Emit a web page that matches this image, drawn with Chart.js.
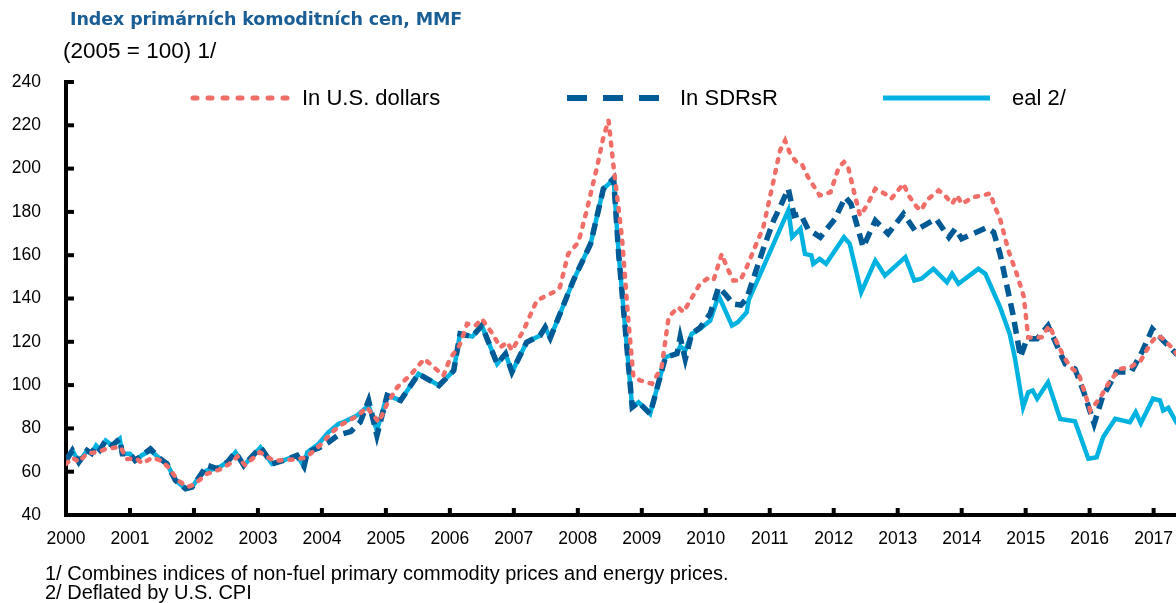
<!DOCTYPE html>
<html>
<head>
<meta charset="utf-8">
<script src="https://cdn.jsdelivr.net/npm/chart.js@4"></script>
<style>
  body { margin: 0; background: #fff; }
  #wrap { position: relative; width: 1176px; height: 603px; overflow: hidden; font-family: "Liberation Sans", Arial, sans-serif; }
  #c { position: absolute; left: 0; top: 0; }
  .txt { position: absolute; white-space: nowrap; color: #000; }
  #title { left: 70px; top: 9px; font: bold 17.5px "DejaVu Sans", sans-serif; color: #1a5e96; letter-spacing: -0.1px; }
  #subtitle { left: 63px; top: 38px; font-size: 22.5px; }
  .leg { position: absolute; top: 86px; height: 24px; }
  .leg svg { position: absolute; left: 0; top: 0; }
  .leg span { position: absolute; top: 0; font-size: 22px; line-height: 24px; white-space: nowrap; }
  .note { left: 45px; font-size: 20px; line-height: 20px; }
</style>
</head>
<body>
<div id="wrap">
  <canvas id="c" width="1176" height="603"></canvas>
  <div class="txt" id="title">Index primárních komoditních cen, MMF</div>
  <div class="txt" id="subtitle">(2005 = 100) 1/</div>

  <div class="leg" style="left:190px;width:300px">
    <svg width="100" height="24"><line x1="3" y1="12" x2="97" y2="12" stroke="#f06d68" stroke-width="5" stroke-linecap="round" stroke-dasharray="4 11"/></svg>
    <span style="left:112px">In U.S. dollars</span>
  </div>
  <div class="leg" style="left:567px;width:260px">
    <svg width="96" height="24"><line x1="0" y1="12" x2="94" y2="12" stroke="#005a96" stroke-width="6" stroke-dasharray="20 16"/></svg>
    <span style="left:113px">In SDRsR</span>
  </div>
  <div class="leg" style="left:883px;width:260px">
    <svg width="110" height="24"><line x1="0" y1="12" x2="107" y2="12" stroke="#00b2e0" stroke-width="5"/></svg>
    <span style="left:129px">eal 2/</span>
  </div>

  <div class="txt note" style="top:563px">1/ Combines indices of non-fuel primary commodity prices and energy prices.</div>
  <div class="txt note" style="top:582px">2/ Deflated by U.S. CPI</div>
</div>

<script>
// in U.S. dollars (decimal year, index)
var usdT = [2000.00, 2000.10, 2000.20, 2000.33, 2000.50, 2000.62, 2000.85, 2000.95, 2001.10, 2001.20,
            2001.35, 2001.50, 2001.60, 2001.75, 2001.90, 2002.00, 2002.20, 2002.40, 2002.55, 2002.68,
            2002.80, 2003.03, 2003.25, 2003.50, 2003.75, 2004.00, 2004.13, 2004.28, 2004.57, 2004.70,
            2004.89, 2005.02, 2005.18, 2005.40, 2005.60, 2005.75, 2005.90, 2006.00, 2006.15, 2006.27,
            2006.40, 2006.50, 2006.65, 2006.79, 2006.90, 2006.97, 2007.15, 2007.36, 2007.62, 2007.72,
            2007.85, 2008.01, 2008.14, 2008.30, 2008.40, 2008.48, 2008.56, 2008.69, 2008.79, 2008.87,
            2008.98, 2009.16, 2009.31, 2009.42, 2009.52, 2009.57, 2009.65, 2009.91, 2010.02, 2010.12,
            2010.25, 2010.33, 2010.43, 2010.54, 2010.64, 2010.90, 2011.06, 2011.16, 2011.24, 2011.32,
            2011.42, 2011.50, 2011.60, 2011.78, 2011.95, 2012.08, 2012.16, 2012.22, 2012.30, 2012.41,
            2012.52, 2012.65, 2012.80, 2012.90, 2013.09, 2013.17, 2013.30, 2013.37, 2013.45, 2013.64,
            2013.74, 2013.85, 2013.93, 2014.00, 2014.18, 2014.33, 2014.45, 2014.50, 2014.60, 2014.73,
            2014.86, 2014.97, 2015.04, 2015.12, 2015.25, 2015.37, 2015.45, 2015.60, 2015.70, 2015.83,
            2016.01, 2016.17, 2016.32, 2016.48, 2016.64, 2016.80, 2016.95, 2017.05, 2017.15, 2017.30,
            2017.37];
var usdV = [63.6, 66.5, 64.5, 68.5, 69.0, 70.5, 71.5, 65.9, 66.0, 63.8,
            66.5, 65.0, 62.0, 56.0, 53.0, 54.0, 59.0, 61.0, 63.5, 67.0,
            63.0, 69.0, 65.0, 65.5, 66.5, 73.0, 77.5, 81.3, 86.0, 89.8,
            82.9, 91.4, 99.1, 105.2, 112.1, 108.3, 104.4, 112.1, 118.3, 128.3,
            127.5, 130.6, 124.4, 117.5, 119.8, 116.0, 125.2, 139.1, 142.9, 145.2,
            160.6, 166.0, 180.7, 200.7, 214.5, 222.3, 200.7, 168.3, 129.8, 103.7,
            102.1, 100.6, 108.3, 131.4, 134.5, 136.0, 133.7, 146.8, 149.1, 148.3,
            160.6, 154.5, 148.3, 148.3, 154.5, 173.0, 194.5, 208.3, 213.0, 206.8,
            202.9, 202.2, 196.0, 187.6, 189.1, 200.7, 203.0, 201.4, 191.4, 178.3,
            183.0, 190.7, 188.4, 186.1, 193.0, 187.6, 182.2, 180.7, 185.3, 189.9,
            187.6, 183.7, 187.6, 183.7, 186.8, 187.6, 188.6, 183.7, 176.8, 162.2,
            151.4, 141.0, 122.0, 122.0, 122.1, 127.5, 122.1, 112.9, 108.3, 105.2,
            88.3, 94.4, 102.1, 107.5, 108.3, 111.4, 119.1, 122.9, 121.4, 116.8,
            114.0];

// in SDRs
var sdrT = [2000.00, 2000.10, 2000.20, 2000.33, 2000.40, 2000.47, 2000.53, 2000.62, 2000.72, 2000.84,
            2000.88, 2001.00, 2001.08, 2001.18, 2001.32, 2001.47, 2001.58, 2001.71, 2001.87, 2001.97,
            2002.10, 2002.20, 2002.36, 2002.52, 2002.65, 2002.78, 2003.04, 2003.22, 2003.40, 2003.61,
            2003.72, 2003.77, 2003.95, 2004.10, 2004.26, 2004.45, 2004.60, 2004.73, 2004.86, 2005.02,
            2005.23, 2005.51, 2005.83, 2006.06, 2006.16, 2006.35, 2006.50, 2006.74, 2006.87, 2006.97,
            2007.20, 2007.41, 2007.49, 2007.57, 2007.93, 2008.20, 2008.40, 2008.56, 2008.64, 2008.85,
            2008.95, 2009.13, 2009.37, 2009.55, 2009.60, 2009.68, 2009.78, 2009.91, 2010.07, 2010.20,
            2010.30, 2010.43, 2010.55, 2010.64, 2010.90, 2011.06, 2011.16, 2011.29, 2011.38, 2011.48,
            2011.60, 2011.79, 2012.02, 2012.18, 2012.27, 2012.46, 2012.65, 2012.85, 2013.09, 2013.27,
            2013.60, 2013.80, 2013.90, 2014.00, 2014.39, 2014.50, 2014.60, 2014.80, 2014.92, 2015.02,
            2015.18, 2015.35, 2015.50, 2015.62, 2015.77, 2015.90, 2016.07, 2016.20, 2016.42, 2016.65,
            2016.83, 2016.98, 2017.15, 2017.37];
var sdrV = [65.2, 69.8, 64.4, 69.8, 68.5, 72.1, 70.1, 74.4, 72.1, 75.2,
            68.3, 68.3, 65.2, 67.5, 70.5, 66.0, 63.6, 56.0, 52.1, 52.9,
            58.3, 63.0, 61.4, 64.4, 69.0, 62.9, 71.3, 63.6, 65.2, 67.5,
            62.4, 69.0, 71.0, 73.5, 77.0, 78.5, 83.0, 92.9, 76.7, 95.2,
            92.9, 105.2, 99.8, 106.7, 123.7, 122.4, 127.5, 109.8, 114.5, 106.0,
            119.8, 122.9, 126.7, 121.8, 148.3, 165.3, 190.7, 195.5, 160.0, 89.8,
            92.1, 86.7, 112.9, 114.5, 122.1, 112.0, 123.7, 126.5, 133.0, 145.2,
            142.2, 137.5, 137.0, 140.0, 163.0, 176.0, 182.2, 190.7, 178.3, 179.1,
            172.0, 168.3, 176.8, 186.8, 183.7, 163.7, 176.0, 169.9, 179.1, 171.4,
            176.8, 168.3, 172.2, 167.6, 172.7, 170.6, 160.6, 132.9, 113.0, 121.4,
            121.4, 127.5, 117.5, 109.8, 107.5, 97.5, 82.1, 94.4, 106.0, 106.0,
            116.0, 126.0, 120.6, 114.0];

// real 2/
var realT = [2000.00, 2000.10, 2000.20, 2000.33, 2000.40, 2000.47, 2000.53, 2000.62, 2000.72, 2000.84,
             2000.88, 2001.00, 2001.08, 2001.18, 2001.32, 2001.47, 2001.58, 2001.71, 2001.87, 2001.97,
             2002.10, 2002.20, 2002.36, 2002.52, 2002.65, 2002.78, 2003.04, 2003.22, 2003.40, 2003.61,
             2003.72, 2003.77, 2003.95, 2004.10, 2004.26, 2004.34, 2004.55, 2004.73, 2004.86, 2005.02,
             2005.23, 2005.51, 2005.83, 2006.06, 2006.16, 2006.35, 2006.50, 2006.74, 2006.87, 2006.97,
             2007.20, 2007.41, 2007.49, 2007.57, 2007.93, 2008.20, 2008.40, 2008.56, 2008.64, 2008.85,
             2008.95, 2009.13, 2009.37, 2009.55, 2009.60, 2009.68, 2009.78, 2009.91, 2010.07, 2010.20,
             2010.41, 2010.50, 2010.64, 2010.67, 2011.29, 2011.35, 2011.48, 2011.55, 2011.65, 2011.68,
             2011.78, 2011.88, 2012.16, 2012.25, 2012.43, 2012.65, 2012.80, 2013.12, 2013.26, 2013.37,
             2013.56, 2013.77, 2013.85, 2013.95, 2014.26, 2014.37, 2014.60, 2014.75, 2014.83, 2014.96,
             2015.04, 2015.11, 2015.18, 2015.35, 2015.54, 2015.77, 2015.98, 2016.11, 2016.21, 2016.40,
             2016.63, 2016.72, 2016.80, 2016.99, 2017.10, 2017.15, 2017.23, 2017.37];
var realV = [65.2, 69.8, 64.4, 69.8, 68.5, 72.1, 70.1, 74.4, 72.1, 75.2,
             68.3, 68.3, 65.2, 67.5, 69.8, 66.0, 63.6, 56.0, 52.1, 52.9,
             58.3, 60.6, 61.4, 64.4, 69.0, 62.9, 71.3, 63.6, 65.2, 67.5,
             62.4, 69.0, 72.9, 78.2, 82.1, 82.9, 86.0, 90.6, 79.0, 95.2,
             92.9, 105.2, 99.8, 106.7, 123.7, 122.4, 127.5, 109.8, 114.5, 106.0,
             119.8, 122.9, 126.7, 121.8, 148.3, 165.3, 190.7, 195.0, 160.0, 89.8,
             92.1, 86.7, 112.9, 114.5, 118.0, 116.0, 123.7, 126.0, 129.8, 141.4,
             127.5, 129.0, 133.7, 139.1, 180.7, 168.3, 172.2, 160.6, 159.9, 156.0,
             158.3, 156.0, 168.3, 165.3, 142.9, 157.5, 150.6, 159.1, 148.3, 149.1,
             153.7, 147.5, 151.4, 146.8, 153.7, 151.4, 136.0, 123.7, 112.9, 89.8,
             96.7, 97.5, 93.7, 101.3, 84.4, 83.3, 66.0, 66.7, 75.9, 84.4,
             82.9, 87.5, 82.4, 93.7, 92.9, 88.3, 89.5, 82.1];

var yearTicks = [2000, 2001, 2002, 2003, 2004, 2005, 2006, 2007, 2008,
                 2009, 2010, 2011, 2012, 2013, 2014, 2015, 2016, 2017];

function pts(t, v) {
    return t.map(function (x, i) { return { x: x, y: v[i] }; });
}

// ticks pointing into the plot, like the original
var innerTicks = {
    id: 'innerTicks',
    afterDraw: function (chart) {
        var ctx = chart.ctx, a = chart.chartArea;
        var xs = chart.scales.x, ys = chart.scales.y;
        ctx.save();
        ctx.strokeStyle = '#000';
        ctx.lineWidth = 4;
        ys.ticks.forEach(function (t, i) {
            var py = ys.getPixelForTick(i);
            ctx.beginPath();
            ctx.moveTo(a.left, py);
            ctx.lineTo(a.left + 8, py);
            ctx.stroke();
        });
        yearTicks.forEach(function (yr) {
            var px = xs.getPixelForValue(yr);
            ctx.beginPath();
            ctx.moveTo(px, a.bottom);
            ctx.lineTo(px, a.bottom - 7);
            ctx.stroke();
        });
        ctx.restore();
    }
};

Chart.defaults.font.family = '"Liberation Sans", Arial, sans-serif';
Chart.defaults.color = '#000';

new Chart(document.getElementById('c'), {
    type: 'line',
    data: {
        datasets: [{
            label: 'In U.S. dollars',
            data: pts(usdT, usdV),
            borderColor: '#f06d68',
            borderWidth: 4.5,
            borderDash: [3, 8],
            borderCapStyle: 'round',
            pointRadius: 0,
            tension: 0
        }, {
            label: 'In SDRs',
            data: pts(sdrT, sdrV),
            borderColor: '#005a96',
            borderWidth: 5.5,
            borderDash: [12, 7],
            pointRadius: 0,
            tension: 0
        }, {
            label: 'Real 2/',
            data: pts(realT, realV),
            borderColor: '#00b2e0',
            borderWidth: 4.5,
            pointRadius: 0,
            tension: 0
        }]
    },
    options: {
        responsive: false,
        animation: false,
        events: [],
        layout: {
            padding: { top: 82, right: 0, left: 0, bottom: 0 }
        },
        scales: {
            x: {
                type: 'linear',
                min: 2000,
                max: 2017.35,
                grid: { display: false, drawTicks: false },
                border: { display: true, color: '#000', width: 4 },
                ticks: {
                    stepSize: 1,
                    includeBounds: false,
                    padding: 14,
                    maxRotation: 0,
                    autoSkip: false,
                    font: { size: 17.5 },
                    callback: function (value) { return String(value); }
                },
                afterFit: function (scale) {
                    scale.height = 88;
                    scale.paddingRight = 0;
                }
            },
            y: {
                min: 40,
                max: 240,
                grid: { display: false, drawTicks: false },
                border: { display: true, color: '#000', width: 4 },
                ticks: {
                    stepSize: 20,
                    padding: 25,
                    font: { size: 17.5 }
                },
                afterFit: function (scale) { scale.width = 66; }
            }
        },
        plugins: {
            legend: { display: false },
            tooltip: { enabled: false }
        }
    },
    plugins: [innerTicks]
});
</script>
</body>
</html>
